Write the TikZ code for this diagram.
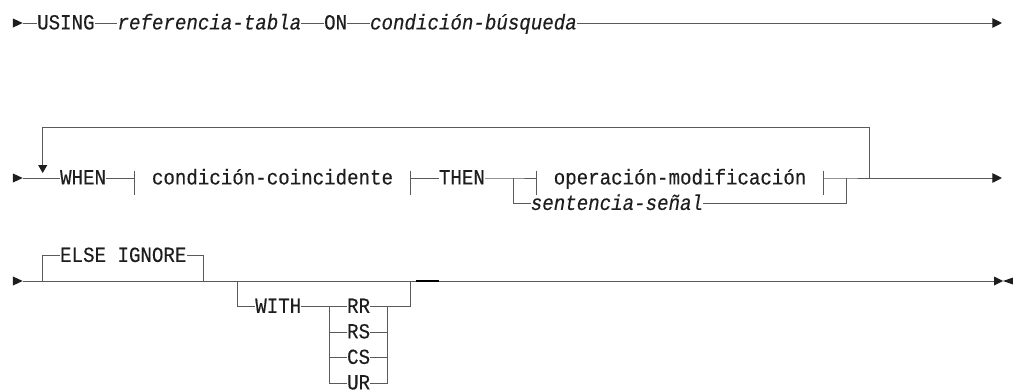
\documentclass[tikz,border=0pt]{standalone}
\usepackage{fontspec}
\newfontfamily\synfont{Liberation Mono}[FakeStretch=0.89, FakeBold=0.3]
\usetikzlibrary{arrows.meta}
\definecolor{lncol}{HTML}{5A5A5A}
\definecolor{txtcol}{HTML}{1E1E1E}
\tikzset{
  ln/.style={draw=lncol, line width=1pt},
  kw/.style={font=\fontsize{21.5}{22}\selectfont\synfont, inner sep=0pt, text height=12.8pt, text depth=0pt, anchor=west, text=txtcol},
  var/.style={kw, font=\fontsize{21.5}{22}\selectfont\synfont\itshape},
  endtip/.style={-{Triangle[length=9.5pt,width=9.5pt,color=txtcol]}},
  downtip/.style={-{Triangle[length=8pt,width=9pt,color=txtcol]}},
  startmark/.style={fill=txtcol, draw=none}
}
\begin{document}
\begin{tikzpicture}[x=11.48pt, y=-1pt]
\useasboundingbox (-1.2195,0) rectangle (87.021,391);
% ---------- row 1 ----------
\fill[startmark] (-0.09,18.5) -- (0.76,23) -- (-0.09,27.5) -- cycle;
\coordinate (s1) at (0.76,23);
\node[kw] (using) at (2,23) {USING};
\node[var] (reftab) at (9,23) {referencia-tabla};
\node[kw] (on) at (27,23) {ON};
\node[var] (cond) at (31,23) {condición-búsqueda};
\coordinate (e1) at (86.06,23);
\draw[ln] (s1) -- (using.west) (using.east) -- (reftab.west) (reftab.east) -- (on.west) (on.east) -- (cond.west);
\draw[ln, endtip] (cond.east) -- (e1);
% ---------- row 2 ----------
\fill[startmark] (-0.09,173.5) -- (0.76,178) -- (-0.09,182.5) -- cycle;
\coordinate (s2) at (0.76,178);
\node[kw] (when) at (4,178) {WHEN};
\node[kw] (cc) at (12,178) {condición-coincidente};
\node[kw] (then) at (37,178) {THEN};
\node[kw] (opm) at (47,178) {operación-modificación};
\node[var] (sig) at (45,203.5) {sentencia-señal};
\coordinate (b1) at (10.5,178);
\coordinate (b2) at (34.5,178);
\coordinate (j1) at (43.5,178);
\coordinate (b3) at (45.5,178);
\coordinate (b4) at (70.5,178);
\coordinate (j2) at (72.5,178);
\coordinate (lp) at (74.5,178);
\coordinate (e2) at (86.06,178);
\coordinate (lpt) at (2.5,173);
\draw[ln] (s2) -- (when.west) (when.east) -- (b1) (b2) -- (then.west) (then.east) -- (j1) -- (b3) (b4) -- (j2) -- (lp);
\draw[ln, endtip] (lp) -- (e2);
\draw[ln] (10.5,170.5) -- (10.5,195) (34.5,170.5) -- (34.5,195)
          (45.5,170.5) -- (45.5,195) (70.5,170.5) -- (70.5,195);
\draw[ln] (j1) |- (sig.west) (sig.east) -| (j2);
\draw[ln, downtip] (lp) -- (74.5,127) -- (2.5,127) -- (lpt);
% ---------- row 3 ----------
\fill[startmark] (-0.09,276.5) -- (0.76,281) -- (-0.09,285.5) -- cycle;
\coordinate (s3) at (0.76,281);
\coordinate (a3) at (2.5,281);
\coordinate (f3) at (16.5,281);
\coordinate (c3) at (19.5,281);
\coordinate (d3) at (34.5,281);
\coordinate (e3) at (85.37,281);
\node[kw] (else) at (4,255.5) {ELSE IGNORE};
\node[kw] (with) at (21,306.5) {WITH};
\node[kw] (rr) at (29,306.5) {RR};
\node[kw] (rs) at (29,332) {RS};
\node[kw] (cs) at (29,357.5) {CS};
\node[kw] (ur) at (29,383) {UR};
\coordinate (g) at (27.5,306.5);
\coordinate (h) at (32.5,306.5);
\draw[ln] (s3) -- (e3);
\draw[ln] (a3) |- (else.west) (else.east) -| (f3);
\draw[ln] (c3) |- (with.west) (with.east) -- (g) -- (rr.west);
\draw[ln] (g) |- (rs.west) (g) |- (cs.west) (g) |- (ur.west);
\draw[ln] (rr.east) -- (h) (rs.east) -| (h) (cs.east) -| (h) (ur.east) -| (h);
\draw[ln] (h) -| (d3);
\draw[black, line width=1.4pt] (35,281) -- (37,281);
\fill[startmark] (85.37,276.5) -- (86.15,281) -- (85.37,285.5) -- cycle;
\fill[startmark] (86.15,281) -- (87.02,277.5) -- (87.02,284.5) -- cycle;
\end{tikzpicture}
\end{document}
